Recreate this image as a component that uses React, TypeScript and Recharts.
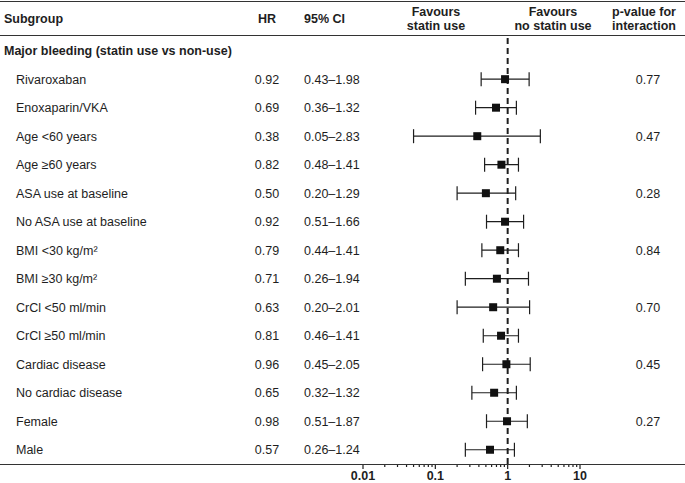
import React from "react";
import {
  ComposedChart,
  Scatter,
  ErrorBar,
  XAxis,
  YAxis,
  ReferenceLine,
} from "recharts";

// forest plot data
const subgroups = [
  "Rivaroxaban",
  "Enoxaparin/VKA",
  "Age <60 years",
  "Age \u226560 years",
  "ASA use at baseline",
  "No ASA use at baseline",
  "BMI <30 kg/m\u00b2",
  "BMI \u226530 kg/m\u00b2",
  "CrCl <50 ml/min",
  "CrCl \u226550 ml/min",
  "Cardiac disease",
  "No cardiac disease",
  "Female",
  "Male",
];
const hr = [0.92, 0.69, 0.38, 0.82, 0.5, 0.92, 0.79, 0.71, 0.63, 0.81, 0.96, 0.65, 0.98, 0.57];
const ciLow = [0.43, 0.36, 0.05, 0.48, 0.2, 0.51, 0.44, 0.26, 0.2, 0.46, 0.45, 0.32, 0.51, 0.26];
const ciHigh = [1.98, 1.32, 2.83, 1.41, 1.29, 1.66, 1.41, 1.94, 2.01, 1.41, 2.05, 1.32, 1.87, 1.24];
const pInteraction = ["0.77", "", "0.47", "", "0.28", "", "0.84", "", "0.70", "", "0.45", "", "0.27", ""];

const sectionTitle = "Major bleeding (statin use vs non-use)";
const majorTicks = [0.01, 0.1, 1, 10];
const xTicks = [
  0.01, 0.02, 0.03, 0.04, 0.05, 0.06, 0.07, 0.08, 0.09,
  0.1, 0.2, 0.3, 0.4, 0.5, 0.6, 0.7, 0.8, 0.9,
  1, 2, 3, 4, 5, 6, 7, 8, 9, 10,
];

const data = subgroups.map((name, i) => ({
  row: i,
  name,
  hr: hr[i],
  err: [hr[i] - ciLow[i], ciHigh[i] - hr[i]],
}));

const FONT = '"Liberation Sans", Arial, Helvetica, sans-serif';
const INK = "#1e1e1e";
const FS = 12.5;

const fmt = (v: number) => v.toFixed(2);

function RowTick(props: any) {
  const { y, payload } = props;
  const i = payload.value;
  if (i < 0) {
    return (
      <text x={4} y={y} dy="0.35em" fontSize={FS} fontWeight="bold" fill={INK} fontFamily={FONT}>
        {sectionTitle}
      </text>
    );
  }
  return (
    <g fontSize={FS} fill={INK} fontFamily={FONT}>
      <text x={16} y={y} dy="0.35em">{subgroups[i]}</text>
      <text x={267} y={y} dy="0.35em" textAnchor="middle">{fmt(hr[i])}</text>
      <text x={304} y={y} dy="0.35em">{fmt(ciLow[i]) + "\u2013" + fmt(ciHigh[i])}</text>
      {pInteraction[i] && (
        <text x={648} y={y} dy="0.35em" textAnchor="middle">{pInteraction[i]}</text>
      )}
    </g>
  );
}

function LogTick(props: any) {
  const { x, y, payload } = props;
  const major = majorTicks.includes(payload.value);
  return (
    <g>
      <line x1={x} x2={x} y1={y} y2={y + (major ? 5 : 3)} stroke={INK} strokeWidth={1.2} />
      {major && (
        <text x={x} y={y + 11.5} dy="0.35em" textAnchor="middle" fontSize={FS} fontWeight="bold" fill={INK} fontFamily={FONT}>
          {payload.value}
        </text>
      )}
    </g>
  );
}

const Square = (props: any) => {
  const { cx, cy } = props;
  return <rect x={cx - 4} y={cy - 4} width={8} height={8} fill="#111" />;
};

const rule = (top: number): React.CSSProperties => ({
  position: "absolute",
  left: 0,
  top,
  width: 685,
  height: 1.5,
  background: "#333",
});

const head = (left: number, width: number, align: "left" | "center"): React.CSSProperties => ({
  position: "absolute",
  left,
  width,
  top: 4,
  height: 30,
  display: "flex",
  alignItems: "center",
  justifyContent: align === "center" ? "center" : "flex-start",
  textAlign: align,
  fontFamily: FONT,
  fontSize: FS,
  fontWeight: "bold",
  lineHeight: "14px",
  color: INK,
});

export default function App() {
  return (
    <div style={{ position: "absolute", left: 0, top: 0, width: 685, height: 483, background: "#fff" }}>
      <ComposedChart
        width={685}
        height={483}
        data={data}
        margin={{ top: 35, right: 105, bottom: 0, left: 0 }}
      >
        <XAxis
          type="number"
          dataKey="hr"
          scale="log"
          domain={[0.01, 10]}
          ticks={xTicks}
          interval={0}
          allowDataOverflow
          axisLine={false}
          tickLine={false}
          tickSize={0}
          tickMargin={0}
          height={19}
          tick={<LogTick />}
        />
        <YAxis
          type="number"
          dataKey="row"
          domain={[-1.55, 13.5]}
          ticks={[-1, 0, 1, 2, 3, 4, 5, 6, 7, 8, 9, 10, 11, 12, 13]}
          interval={0}
          reversed
          allowDataOverflow
          width={363}
          axisLine={false}
          tickLine={false}
          tick={<RowTick />}
        />
        <ReferenceLine x={1} stroke={INK} strokeWidth={2} strokeDasharray="6 4" />
        <Scatter data={data} shape={<Square />} isAnimationActive={false}>
          <ErrorBar dataKey="err" direction="x" width={7} stroke={INK} strokeWidth={1.2} />
        </Scatter>
      </ComposedChart>
      <div style={rule(0.5)} />
      <div style={rule(34.5)} />
      <div style={rule(463.5)} />
      <div style={head(4, 120, "left")}>Subgroup</div>
      <div style={head(247, 40, "center")}>HR</div>
      <div style={head(304, 80, "left")}>95% CI</div>
      <div style={head(386, 100, "center")}>Favours<br />statin use</div>
      <div style={head(503, 100, "center")}>Favours<br />no statin use</div>
      <div style={head(604, 80, "center")}>p-value for<br />interaction</div>
    </div>
  );
}
